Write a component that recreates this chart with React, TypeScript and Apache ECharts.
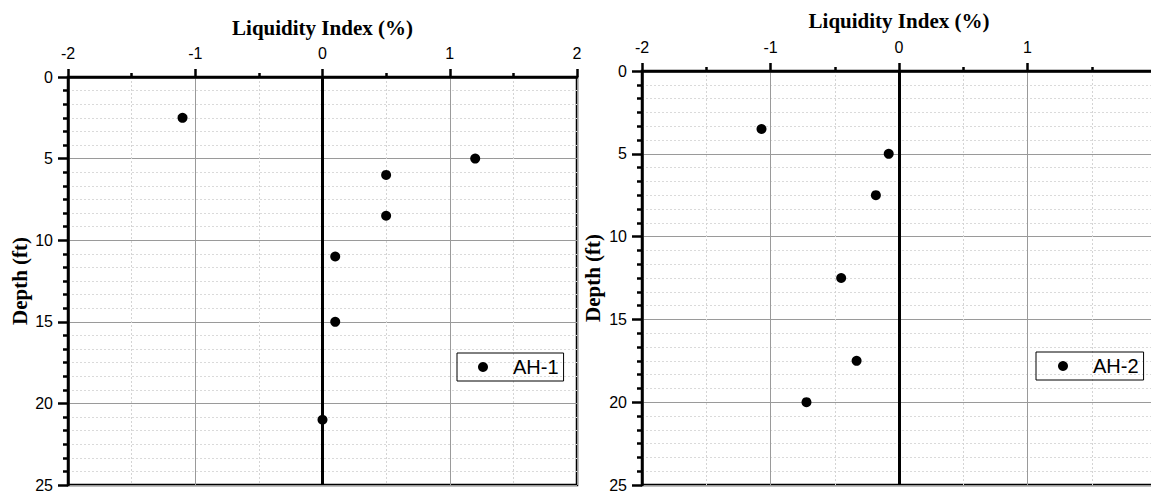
import React, { useEffect, useRef } from "react";
import * as echarts from "echarts";

const xTitle = "Liquidity Index (%)";
const yTitle = "Depth (ft)";

const seriesNames = ["AH-1", "AH-2"];

// AH-1: [liquidity index, depth]
const ah1LI = [-1.1, 1.2, 0.5, 0.5, 0.1, 0.1, 0.0];
const ah1Depth = [2.5, 5, 6, 8.5, 11, 15, 21];

// AH-2
const ah2LI = [-1.07, -0.08, -0.18, -0.45, -0.33, -0.72];
const ah2Depth = [3.5, 5, 7.5, 12.5, 17.5, 20];

const xMin = -2;
const xMax = 2;
const yMin = 0;
const yMax = 25;

const sans = "'Liberation Sans', Arial, sans-serif";
const serif = "'Liberation Serif', 'Times New Roman', serif";

function makeX(gridIndex: number, labelMargin: number, nameGap: number, showMax: boolean) {
  return {
    type: "value",
    gridIndex,
    position: "top",
    min: xMin,
    max: xMax,
    interval: 1,
    name: xTitle,
    nameLocation: "middle",
    nameGap,
    nameTextStyle: { fontFamily: serif, fontWeight: "bold", fontSize: 21, color: "#000" },
    axisLine: { show: true, onZero: false, lineStyle: { color: "#000", width: 2.5 } },
    axisTick: { show: true, inside: false, length: 8, lineStyle: { color: "#000", width: 2.5 } },
    minorTick: { show: true, splitNumber: 2, length: 4, lineStyle: { color: "#000", width: 2.5 } },
    axisLabel: { fontFamily: sans, fontSize: 16, color: "#000", margin: labelMargin, showMaxLabel: showMax },
    splitLine: { show: true, lineStyle: { color: "#9a9a9a", width: 1 } },
    minorSplitLine: { show: true, lineStyle: { color: "#d4d4d4", width: 1, type: [2, 2] } },
  };
}

function makeY(gridIndex: number, nameGap: number) {
  return {
    type: "value",
    gridIndex,
    position: "left",
    inverse: true,
    min: yMin,
    max: yMax,
    interval: 5,
    name: yTitle,
    nameLocation: "middle",
    nameGap,
    nameRotate: 90,
    nameTextStyle: { fontFamily: serif, fontWeight: "bold", fontSize: 21, color: "#000" },
    axisLine: { show: true, onZero: false, lineStyle: { color: "#000", width: 2.5 } },
    axisTick: { show: true, inside: false, length: 10, lineStyle: { color: "#000", width: 2.5 } },
    minorTick: { show: true, splitNumber: 6, length: 5, lineStyle: { color: "#000", width: 2.5 } },
    axisLabel: { fontFamily: sans, fontSize: 16, color: "#000", margin: 15 },
    splitLine: { show: true, lineStyle: { color: "#9a9a9a", width: 1 } },
    minorSplitLine: { show: true, lineStyle: { color: "#dadada", width: 1, type: [2, 2] } },
  };
}

function zeroLine() {
  return {
    silent: true,
    symbol: ["none", "none"],
    label: { show: false },
    lineStyle: { color: "#000", width: 3, type: "solid" },
    data: [{ xAxis: 0 }],
  };
}

function legendFor(name: string, left: number, top: number, padLeft: number) {
  return {
    data: [name],
    left,
    top,
    orient: "vertical",
    borderColor: "#000",
    borderWidth: 1,
    padding: [4, 5, 4, padLeft],
    itemWidth: 10,
    itemHeight: 10,
    icon: "circle",
    textStyle: { fontFamily: sans, fontSize: 20, color: "#000", padding: [0, 0, 0, 20] },
  };
}

export default function App() {
  const ref = useRef<HTMLDivElement>(null);
  useEffect(() => {
    document.body.style.margin = "0";
    if (!ref.current) return;
    const chart = echarts.init(ref.current, undefined, { renderer: "svg" });
    const d1 = ah1LI.map((v, i) => [v, ah1Depth[i]]);
    const d2 = ah2LI.map((v, i) => [v, ah2Depth[i]]);
    chart.setOption({
      animation: false,
      backgroundColor: "#fff",
      grid: [
        { left: 68, top: 77, width: 509, height: 408, show: true, borderColor: "#000", borderWidth: 2.5, backgroundColor: "transparent", outerBoundsMode: "none", containLabel: false },
        { left: 642, top: 71, width: 514, height: 414, show: true, borderColor: "#000", borderWidth: 2.5, backgroundColor: "transparent", outerBoundsMode: "none", containLabel: false },
      ],
      xAxis: [makeX(0, 16, 39, true), makeX(1, 16, 40, false)],
      yAxis: [makeY(0, 38), makeY(1, 39)],
      legend: [legendFor(seriesNames[0], 457, 353, 21), legendFor(seriesNames[1], 1036, 352, 22)],
      series: [
        {
          name: seriesNames[0],
          type: "scatter",
          xAxisIndex: 0,
          yAxisIndex: 0,
          symbol: "circle",
          symbolSize: 10,
          itemStyle: { color: "#000", opacity: 1 },
          data: d1,
          markLine: zeroLine(),
          z: 5,
        },
        {
          name: seriesNames[1],
          type: "scatter",
          xAxisIndex: 1,
          yAxisIndex: 1,
          symbol: "circle",
          symbolSize: 10,
          itemStyle: { color: "#000", opacity: 1 },
          data: d2,
          markLine: zeroLine(),
          z: 5,
        },
      ],
    });
    return () => chart.dispose();
  }, []);
  return <div ref={ref} style={{ width: 1151, height: 491 }} />;
}
